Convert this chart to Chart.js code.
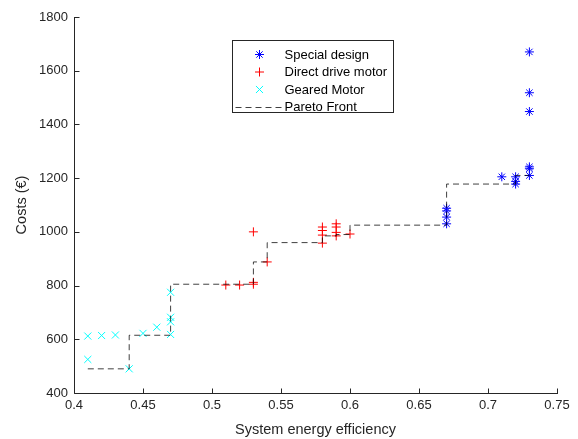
<!DOCTYPE html>
<html><head><meta charset="utf-8">
<script src="https://cdn.jsdelivr.net/npm/chart.js@4.4.1/dist/chart.umd.min.js"></script>
<style>html,body{margin:0;padding:0;background:#fff}#wrap{width:578px;height:439px}</style>
</head><body><div id="wrap"><canvas id="c" width="578" height="439"></canvas></div>
<script>
// ---- data ----
const xTicks = [0.4, 0.45, 0.5, 0.55, 0.6, 0.65, 0.7, 0.75];
const yTicks = [400, 600, 800, 1000, 1200, 1400, 1600, 1800];
const seriesNames = ['Special design', 'Direct drive motor', 'Geared Motor', 'Pareto Front'];
const xTitle = 'System energy efficiency';
const yTitle = 'Costs (€)';

const specialX = [0.67, 0.67, 0.67, 0.67, 0.71, 0.72, 0.72, 0.72, 0.73, 0.73, 0.73, 0.73, 0.73, 0.73];
const specialY = [1088, 1078, 1055, 1030, 1205, 1205, 1188, 1178, 1670, 1518, 1448, 1242, 1235, 1210];

const directX = [0.51, 0.52, 0.53, 0.53, 0.53, 0.54, 0.58, 0.58, 0.58, 0.58, 0.59, 0.59, 0.59, 0.59, 0.60];
const directY = [802, 802, 1000, 812, 805, 888, 1018, 1005, 988, 958, 1030, 1018, 998, 985, 992];

const gearedX = [0.41, 0.41, 0.42, 0.43, 0.44, 0.45, 0.46, 0.47, 0.47, 0.47, 0.47];
const gearedY = [612, 525, 614, 616, 490, 622, 645, 682, 665, 618, 775];

const paretoX = [0.41, 0.44, 0.44, 0.47, 0.47, 0.53, 0.53, 0.54, 0.54, 0.58, 0.58, 0.59, 0.59, 0.60, 0.60, 0.67, 0.67, 0.72, 0.72, 0.73];
const paretoY = [490, 490, 615, 615, 805, 805, 888, 888, 960, 960, 985, 985, 990, 990, 1025, 1025, 1178, 1178, 1210, 1210];

const zip = (xs, ys) => xs.map((v, i) => ({x: v, y: ys[i]}));
const FONT = "'Liberation Sans', Arial, sans-serif";
const AX = '#262626';

const axesPlugin = {
  id: 'matlabAxes',
  afterDraw(chart) {
    const {ctx, chartArea: a, scales: {x, y}} = chart;
    ctx.save();
    ctx.strokeStyle = AX; ctx.lineWidth = 1; ctx.setLineDash([]);
    const L = Math.round(a.left) + 0.5, B = Math.round(a.bottom) + 0.5;
    ctx.beginPath();
    ctx.moveTo(L, Math.round(a.top)); ctx.lineTo(L, B); ctx.lineTo(Math.round(a.right) + 1, B);
    x.ticks.forEach(t => { const px = Math.round(x.getPixelForValue(t.value)) + 0.5; ctx.moveTo(px, B); ctx.lineTo(px, B - 5); });
    y.ticks.forEach(t => { const py = Math.round(y.getPixelForValue(t.value)) + 0.5; ctx.moveTo(L, py); ctx.lineTo(L + 5, py); });
    ctx.stroke();

    // legend box
    const bx = Math.round(a.left + 158) + 0.5, by = Math.round(a.top + 23) + 0.5, bw = 161, bh = 72;
    ctx.fillStyle = '#fff'; ctx.fillRect(bx, by, bw, bh);
    ctx.strokeStyle = AX; ctx.strokeRect(bx, by, bw, bh);
    ctx.font = '13px ' + FONT; ctx.fillStyle = '#000'; ctx.textBaseline = 'middle'; ctx.textAlign = 'left';
    chart.data.datasets.forEach((ds, i) => {
      const cy = by + 14 + i * 17.5;
      const sx = bx + 27;
      if (ds.showLine) {
        ctx.save();
        ctx.strokeStyle = ds.borderColor; ctx.lineWidth = ds.borderWidth; ctx.setLineDash(ds.borderDash);
        ctx.beginPath(); ctx.moveTo(bx + 3, Math.round(cy) + 0.5); ctx.lineTo(bx + 50, Math.round(cy) + 0.5); ctx.stroke();
        ctx.restore();
      } else {
        ctx.save();
        ctx.strokeStyle = ds.borderColor; ctx.lineWidth = ds.borderWidth;
        Chart.helpers.drawPoint(ctx, {pointStyle: ds.pointStyle, radius: ds.pointRadius, rotation: 0, borderWidth: ds.borderWidth}, sx, cy);
        ctx.restore();
      }
      ctx.fillText(seriesNames[i], bx + 52, cy + 0.5);
    });
    ctx.restore();
  }
};

new Chart(document.getElementById('c'), {
  type: 'scatter',
  data: {
    datasets: [
      {label: seriesNames[0], data: zip(specialX, specialY), pointStyle: 'star', pointRadius: 4.5, borderColor: '#0000ff', backgroundColor: 'rgba(0,0,0,0)', borderWidth: 1, order: 4},
      {label: seriesNames[1], data: zip(directX, directY), pointStyle: 'cross', pointRadius: 4.5, borderColor: '#ff0000', backgroundColor: 'rgba(0,0,0,0)', borderWidth: 1, order: 3},
      {label: seriesNames[2], data: zip(gearedX, gearedY), pointStyle: 'crossRot', pointRadius: 5, borderColor: '#00ffff', backgroundColor: 'rgba(0,0,0,0)', borderWidth: 1, order: 2},
      {label: seriesNames[3], data: zip(paretoX, paretoY), showLine: true, pointRadius: 0, borderColor: 'rgba(0,0,0,0.75)', borderWidth: 1, borderDash: [6, 4], fill: false, tension: 0, order: 1}
    ]
  },
  options: {
    responsive: false, animation: false, devicePixelRatio: 1,
    layout: {padding: {top: 17, right: 21, left: 0, bottom: 0}},
    plugins: {legend: {display: false}, tooltip: {enabled: false}},
    scales: {
      x: {
        type: 'linear', min: 0.4, max: 0.75,
        afterBuildTicks: s => { s.ticks = xTicks.map(v => ({value: v})); },
        afterFit: s => { s.height = 46; },
        grid: {display: false, drawTicks: false}, border: {display: false},
        ticks: {padding: 5, color: AX, font: {family: FONT, size: 13}, maxRotation: 0, autoSkip: false,
                callback: v => String(Math.round(v * 100) / 100)},
        title: {display: true, text: xTitle, color: AX, font: {family: FONT, size: 14.5}, padding: {top: 0, bottom: 0}}
      },
      y: {
        type: 'linear', min: 400, max: 1800,
        afterBuildTicks: s => { s.ticks = yTicks.map(v => ({value: v})); },
        afterFit: s => { s.width = 74; },
        grid: {display: false, drawTicks: false}, border: {display: false},
        ticks: {padding: 6, color: AX, font: {family: FONT, size: 13}, autoSkip: false,
                callback: v => String(Math.round(v))},
        title: {display: true, text: yTitle, color: AX, font: {family: FONT, size: 14.5}, padding: {top: 13, bottom: 0}}
      }
    }
  },
  plugins: [axesPlugin]
});
</script>
</body></html>
